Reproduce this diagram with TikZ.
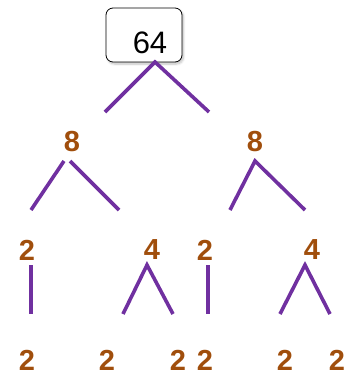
\documentclass[tikz,border=0pt]{standalone}
\usepackage{fontspec}
\setmainfont{Liberation Sans}
\usetikzlibrary{shadows.blur}
\definecolor{numbrown}{RGB}{160,78,12}
\definecolor{linepurple}{RGB}{112,48,160}
\begin{document}
\begin{tikzpicture}[x=1pt,y=-1pt,
  num/.style={font=\fontsize{29}{29}\selectfont\bfseries, text=numbrown, inner sep=0pt},
  branch/.style={draw=linepurple, line width=3.6pt},
  rootbox/.style={draw=black, line width=0.8pt, rounded corners=7pt, fill=white,
    minimum width=76pt, minimum height=54pt, inner sep=0pt,
    font=\fontsize{31}{31}\selectfont,
    blur shadow={shadow xshift=1.5pt, shadow yshift=-2pt, shadow blur steps=6, shadow opacity=25}}]
\useasboundingbox (0,0) rectangle (350,375);
% root
\node[rootbox] (root) at (144,35) {\hspace*{12pt}\rule{0pt}{38pt}64};
% level 1
\node[num] (e1) at (72,142) {8};
\node[num] (e2) at (255,142) {8};
% level 2
\node[num] (a1) at (27,250) {2};
\node[num] (a2) at (152,250) {4};
\node[num] (a3) at (205,250) {2};
\node[num] (a4) at (312,250) {4};
% level 3
\node[num] (b1) at (27,360) {2};
\node[num] (b2) at (107,360) {2};
\node[num] (b3) at (178,360) {2};
\node[num] (b4) at (205,360) {2};
\node[num] (b5) at (285,360) {2};
\node[num] (b6) at (337,360) {2};
% connector points
\coordinate (r0) at (155,62);
\coordinate (r1) at (105,112);
\coordinate (r2) at (209,112);
\coordinate (e1l) at (64,161);
\coordinate (e1r) at (70,161);
\coordinate (e1a) at (31,210);
\coordinate (e1b) at (119,210);
\coordinate (e2t) at (255,161);
\coordinate (e2a) at (230,210);
\coordinate (e2b) at (305,210);
\coordinate (a1t) at (31,265);
\coordinate (a1b) at (31,314);
\coordinate (a2t) at (147,265);
\coordinate (a2a) at (123,314);
\coordinate (a2b) at (173,314);
\coordinate (a3t) at (208,265);
\coordinate (a3b) at (208,314);
\coordinate (a4t) at (305,265);
\coordinate (a4a) at (280,314);
\coordinate (a4b) at (330,314);
% connectors
\draw[branch] (r1) -- (r0) -- (r2);
\draw[branch] (e1l) -- (e1a);
\draw[branch] (e1r) -- (e1b);
\draw[branch] (e2a) -- (e2t) -- (e2b);
\draw[branch] (a1t) -- (a1b);
\draw[branch] (a2a) -- (a2t) -- (a2b);
\draw[branch] (a3t) -- (a3b);
\draw[branch] (a4a) -- (a4t) -- (a4b);
\end{tikzpicture}
\end{document}
